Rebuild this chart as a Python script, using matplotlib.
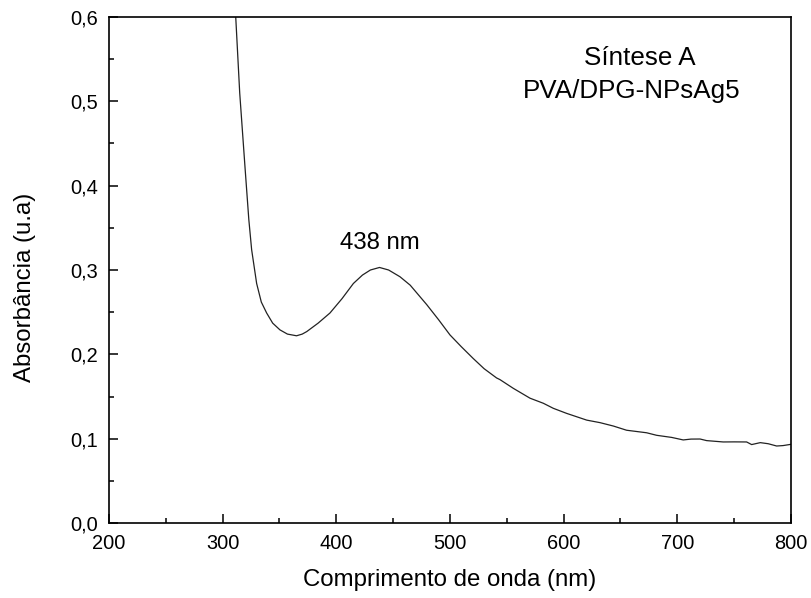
import matplotlib
matplotlib.use('Agg')
import matplotlib.pyplot as plt
from matplotlib.ticker import MultipleLocator, FuncFormatter

plt.rcParams['font.family'] = ['Liberation Sans', 'DejaVu Sans']

# UV-Vis spectrum
wavelength = [306, 311.5, 315, 319.6, 323, 325.5, 329.9, 334, 338.7, 344, 350.4, 357,
              365, 370, 374, 384, 394.4, 405, 415, 423, 430, 438, 446, 456, 465,
              479.5, 490, 500, 510, 520.5, 530, 541, 544, 555.7, 570.4, 582.1, 590.9,
              602.6, 620.3, 632, 643.7, 655.4, 673, 681.8, 695, 705.2, 712, 720, 725.8,
              740.4, 750, 761, 765.4, 773, 780, 787.4, 793, 800]
absorbance = [0.75, 0.600, 0.51, 0.423, 0.36, 0.324, 0.284, 0.262, 0.249, 0.237, 0.229, 0.224,
              0.222, 0.224, 0.227, 0.237, 0.249, 0.266, 0.284, 0.294, 0.300, 0.303, 0.300, 0.292, 0.282,
              0.259, 0.241, 0.223, 0.209, 0.195, 0.183, 0.172, 0.170, 0.1597, 0.148, 0.142, 0.136,
              0.130, 0.122, 0.119, 0.115, 0.110, 0.107, 0.104, 0.1015, 0.0985, 0.0995, 0.0996, 0.0977,
              0.0961, 0.0962, 0.0961, 0.0930, 0.0953, 0.0940, 0.0913, 0.0918, 0.0933]

xticks = [200, 300, 400, 500, 600, 700, 800]
yticks = [0.0, 0.1, 0.2, 0.3, 0.4, 0.5, 0.6]

fig = plt.figure(figsize=(8.11, 5.98), dpi=100)
ax = fig.add_axes([0.1344, 0.1254, 0.8409, 0.8462])

ax.plot(wavelength, absorbance, color='#222222', lw=0.9)

ax.set_xlim(200, 800)
ax.set_ylim(0, 0.6)
ax.set_xticks(xticks)
ax.set_yticks(yticks)
ax.xaxis.set_minor_locator(MultipleLocator(50))
ax.yaxis.set_minor_locator(MultipleLocator(0.05))
ax.yaxis.set_major_formatter(FuncFormatter(lambda v, p: f'{v:.1f}'.replace('.', ',')))

ax.tick_params(which='both', direction='in', top=False, right=False, width=1.1, labelsize=14.4, pad=8)
ax.tick_params(which='major', length=6.7)
ax.tick_params(which='minor', length=3.6)
for s in ax.spines.values():
    s.set_linewidth(1.2)

ax.set_xlabel('Comprimento de onda (nm)', fontsize=17.3)
ax.set_ylabel('Absorbância (u.a)', fontsize=17.3)
ax.xaxis.set_label_coords(0.5, -0.09)
ax.yaxis.set_label_coords(-0.107, 0.465)

fig.text(640 / 811, 1 - 65 / 598, 'Síntese A', ha='center', va='baseline', fontsize=18.7)
fig.text(632 / 811, 1 - 98 / 598, 'PVA/DPG-NPsAg5', ha='center', va='baseline', fontsize=18.7)
ax.text(438, 0.325, '438 nm', ha='center', va='baseline', fontsize=17.3)

fig.savefig('out.png', dpi=100)
